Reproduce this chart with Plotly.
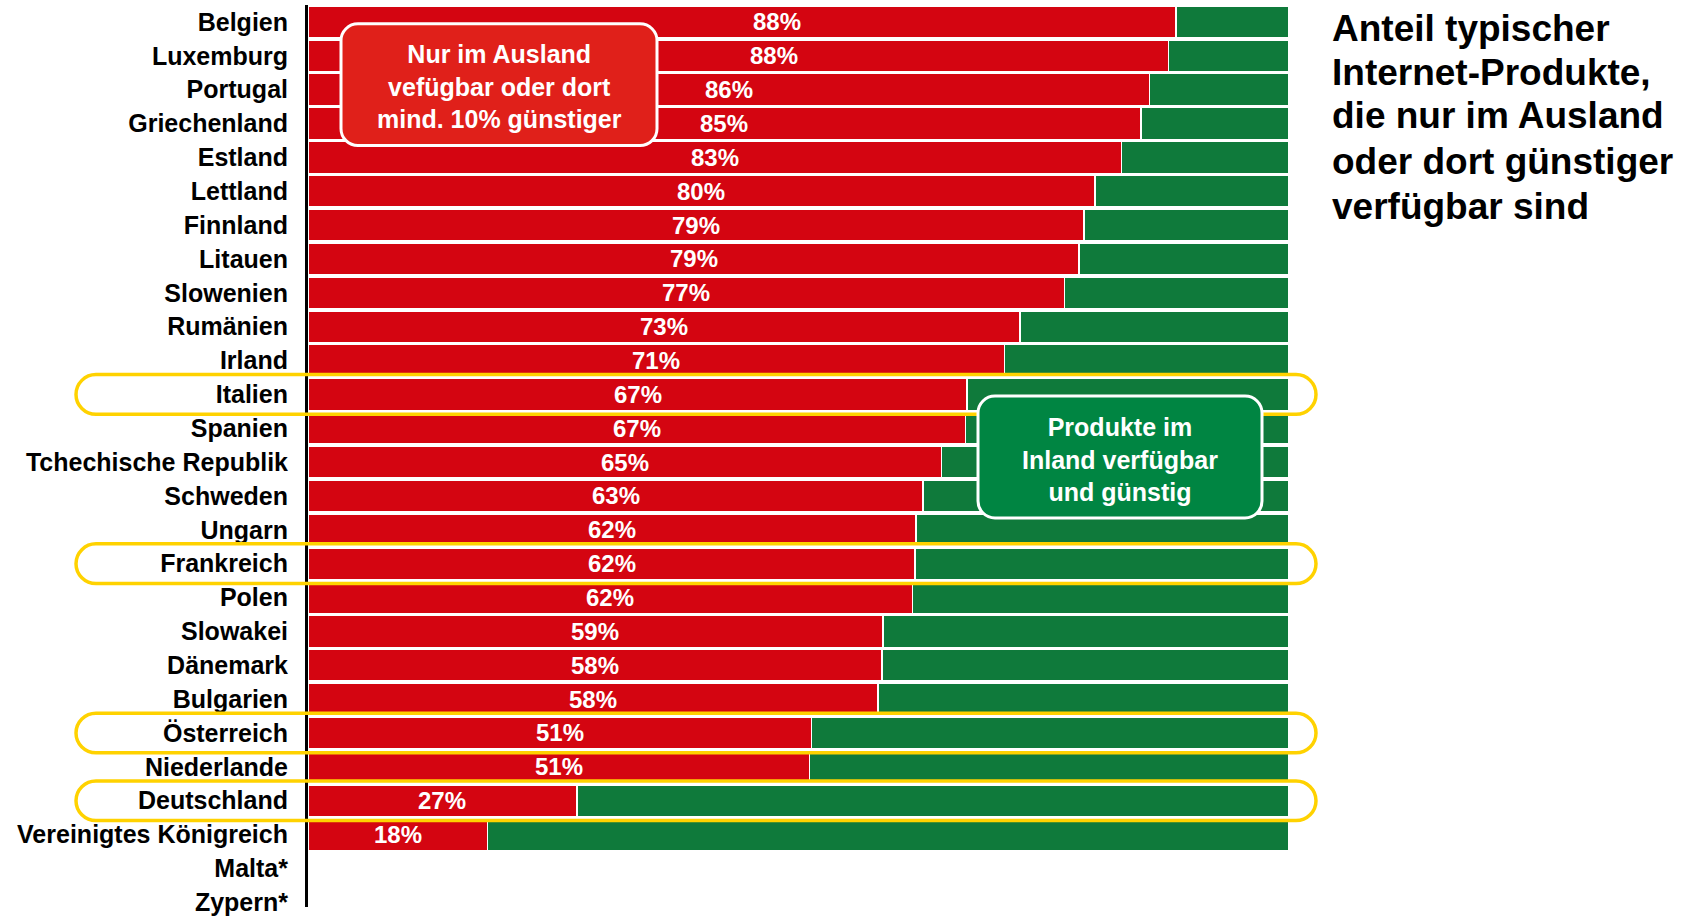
import plotly.graph_objects as go

countries = ["Belgien", "Luxemburg", "Portugal", "Griechenland", "Estland", "Lettland",
             "Finnland", "Litauen", "Slowenien", "Rumänien", "Irland", "Italien", "Spanien",
             "Tchechische Republik", "Schweden", "Ungarn", "Frankreich", "Polen", "Slowakei",
             "Dänemark", "Bulgarien", "Österreich", "Niederlande", "Deutschland",
             "Vereinigtes Königreich", "Malta*", "Zypern*"]
abroad = [88.5, 87.7, 85.8, 84.9, 82.9, 80.2, 79.1, 78.6, 77.1, 72.6, 71.0, 67.2, 67.0,
          64.6, 62.7, 62.0, 61.9, 61.6, 58.6, 58.5, 58.1, 51.3, 51.1, 27.4, 18.3, None, None]
labels = ["88%", "88%", "86%", "85%", "83%", "80%", "79%", "79%", "77%", "73%", "71%",
          "67%", "67%", "65%", "63%", "62%", "62%", "62%", "59%", "58%", "58%", "51%",
          "51%", "27%", "18%", "", ""]
domestic = [None if v is None else 100 - v for v in abroad]
highlighted = ["Italien", "Frankreich", "Österreich", "Deutschland"]
label_shift = {"Belgien": 35, "Luxemburg": 36}

title_lines = ["Anteil typischer", "Internet-Produkte,", "die nur im Ausland",
               "oder dort günstiger", "verfügbar sind"]
box_red_text = "Nur im Ausland<br>vefügbar oder dort<br>mind. 10% günstiger"
box_green_text = "Produkte im<br>Inland verfügbar<br>und günstig"

RED = "#D40511"
GREEN = "#0F7A3B"
FONT = "Arial, Liberation Sans, sans-serif"

W, H = 1694, 916
L, R, T, B = 308, 1289, 5, 916
YMIN, YMAX = -0.5, 26.14


def px(x):
    return (x - L) / (R - L)


def py(y):
    return (B - y) / (B - T)


def cat_center_px(idx):
    return T + (idx - YMIN) * (B - T) / (YMAX - YMIN)


def rrect(x0, y0, x1, y1, r):
    k = 0.5523 * r
    pts = [("M", [(x0 + r, y0)]), ("L", [(x1 - r, y0)]),
           ("C", [(x1 - r + k, y0), (x1, y0 + r - k), (x1, y0 + r)]),
           ("L", [(x1, y1 - r)]),
           ("C", [(x1, y1 - r + k), (x1 - r + k, y1), (x1 - r, y1)]),
           ("L", [(x0 + r, y1)]),
           ("C", [(x0 + r - k, y1), (x0, y1 - r + k), (x0, y1 - r)]),
           ("L", [(x0, y0 + r)]),
           ("C", [(x0, y0 + r - k), (x0 + r - k, y0), (x0 + r, y0)])]
    s = ""
    for cmd, ps in pts:
        s += cmd + " " + " ".join(f"{px(a):.5f},{py(b):.5f}" for a, b in ps) + " "
    return s + "Z"


fig = go.Figure()
fig.add_trace(go.Bar(y=countries, x=abroad, orientation="h", marker=dict(color=RED, line=dict(color="white", width=1.5)),
                     hoverinfo="skip"))
fig.add_trace(go.Bar(y=countries, x=domestic, orientation="h", marker=dict(color=GREEN, line=dict(color="white", width=1.5)),
                     hoverinfo="skip"))

annotations = []
for c, v, t in zip(countries, abroad, labels):
    if v is None:
        continue
    annotations.append(dict(x=v / 2, y=c, xref="x", yref="y", text=t, showarrow=False,
                            xanchor="center", yanchor="middle",
                            xshift=label_shift.get(c, 0),
                            font=dict(family=FONT, size=24, color="white", weight="bold")))

shapes = []
for name in highlighted:
    yc = cat_center_px(countries.index(name))
    shapes.append(dict(type="path", xref="paper", yref="paper", layer="above",
                       path=rrect(76, yc - 20, 1316, yc + 20, 20),
                       line=dict(color="#FFD200", width=3.5)))

shapes.append(dict(type="path", xref="paper", yref="paper", layer="above",
                   path=rrect(341, 24, 657, 147, 17), fillcolor="#E0201A",
                   line=dict(color="white", width=3)))
shapes.append(dict(type="path", xref="paper", yref="paper", layer="above",
                   path=rrect(978, 400, 1262, 523, 17), fillcolor="#008542",
                   line=dict(color="white", width=3)))

annotations.append(dict(x=px(499), y=py(87), xref="paper", yref="paper", text=box_red_text,
                        showarrow=False, align="center", xanchor="center", yanchor="middle",
                        font=dict(family=FONT, size=25, color="white", weight="bold")))
annotations.append(dict(x=px(1120), y=py(464), xref="paper", yref="paper", text=box_green_text,
                        showarrow=False, align="center", xanchor="center", yanchor="middle",
                        font=dict(family=FONT, size=25, color="white", weight="bold")))

title_y = [29, 73.5, 117, 163.5, 208.5]
for line, yy in zip(title_lines, title_y):
    annotations.append(dict(x=px(1330), y=py(yy), xref="paper", yref="paper", text=line,
                            showarrow=False, xanchor="left", yanchor="middle", align="left",
                            font=dict(family=FONT, size=37, color="black", weight="bold")))

fig.update_layout(
    width=W, height=H, barmode="stack", bargap=0.06, showlegend=False,
    margin=dict(l=L, r=W - R, t=T, b=H - B, pad=0),
    paper_bgcolor="white", plot_bgcolor="white",
    xaxis=dict(range=[0, 100], visible=False, fixedrange=True),
    yaxis=dict(categoryorder="array", categoryarray=countries, range=[YMAX, YMIN],
               showline=True, linecolor="black", linewidth=3, showgrid=False,
               zeroline=False, ticks="", ticklabelstandoff=12,
               tickfont=dict(family=FONT, size=25, color="black", weight="bold")),
    shapes=shapes, annotations=annotations,
)

fig.write_html("out.html")
